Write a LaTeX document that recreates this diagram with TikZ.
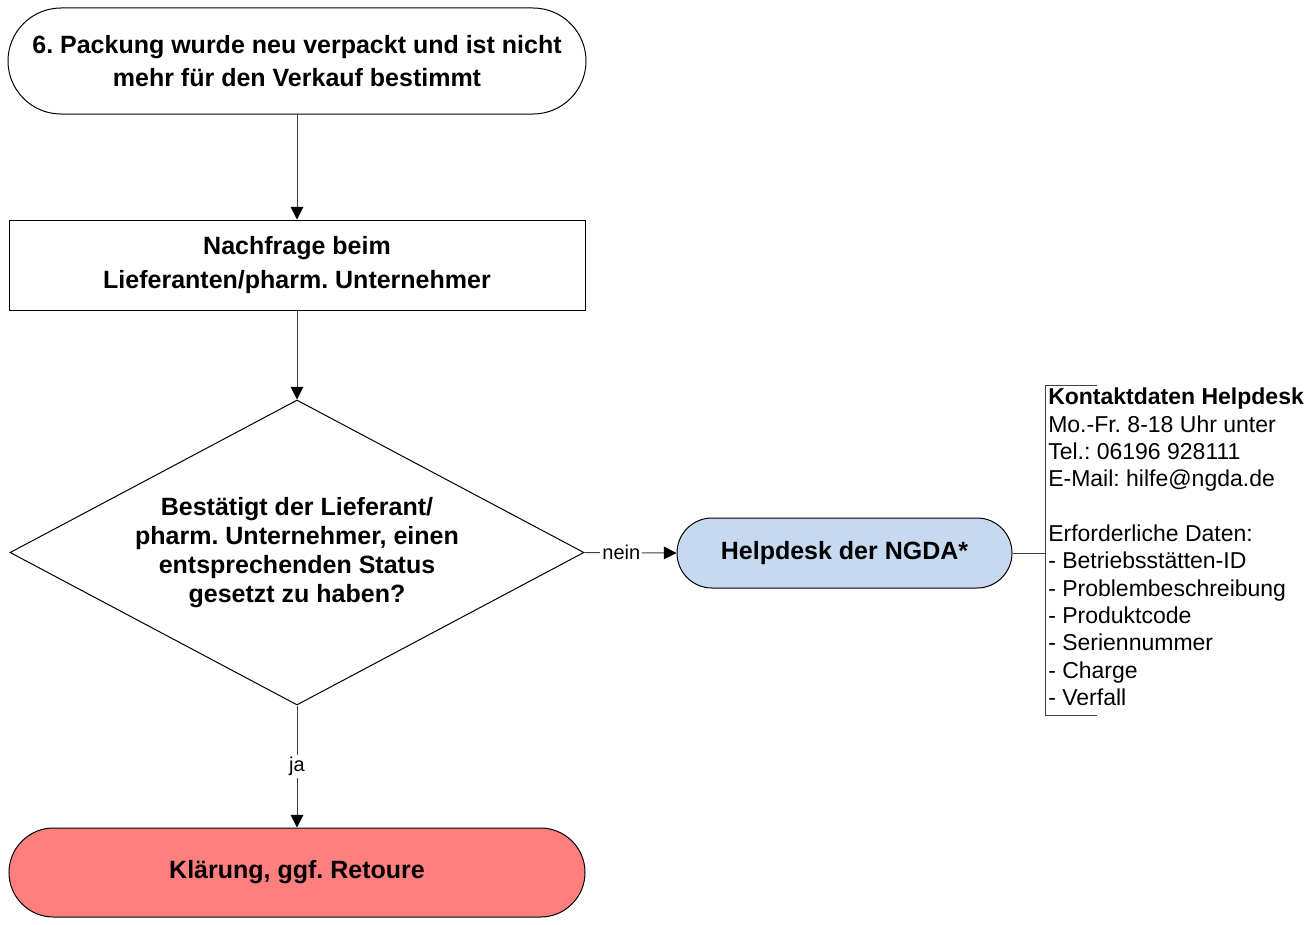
\documentclass[tikz,border=0pt]{standalone}
\usepackage{fontspec}
\setmainfont{Liberation Sans}
\usetikzlibrary{shapes.geometric,arrows.meta}
\definecolor{hdblue}{RGB}{198,217,241}
\definecolor{klred}{RGB}{255,127,127}
\definecolor{lncol}{RGB}{64,64,64}
\frenchspacing
\tikzset{
  basebox/.style={draw=black, line width=0.75pt, align=center, inner sep=0pt,
    font=\frenchspacing\bfseries\fontsize{18.75}{24.75}\selectfont},
  term/.style={basebox, rounded corners=#1},
  conn/.style={draw=lncol, line width=0.75pt, -{Triangle[length=9.5pt,width=9.5pt,black]}},
  plainline/.style={draw=lncol, line width=0.75pt},
  lbl/.style={fill=white, inner sep=1.5pt, font=\fontsize{15}{18}\selectfont}
}
\begin{document}
\begin{tikzpicture}[x=0.75pt,y=-0.75pt]
\useasboundingbox (0,0) rectangle (1308,924);
\node[term=39.75pt, minimum width=433.5pt, minimum height=79.5pt] (start) at (297,61)
  {6. Packung wurde neu verpackt und ist nicht\\mehr für den Verkauf bestimmt};
\node[basebox, minimum width=432pt, minimum height=67.5pt,
  font=\frenchspacing\bfseries\fontsize{18.75}{25.5}\selectfont] (ask) at (297,265)
  {Nachfrage beim\\Lieferanten/pharm. Unternehmer};
\node[basebox, diamond, aspect=1.88, minimum width=430.5pt, minimum height=228.75pt,
  font=\frenchspacing\bfseries\fontsize{18.75}{21.75}\selectfont] (dec) at (297,552.5)
  {Bestätigt der Lieferant/\\pharm. Unternehmer, einen\\entsprechenden Status\\gesetzt zu haben?};
\node[term=26.25pt, fill=hdblue, minimum width=251.25pt, minimum height=52.5pt] (help) at (844.5,553)
  {Helpdesk der NGDA*};
\node[term=33.375pt, fill=klred, minimum width=432pt, minimum height=66.75pt] (end) at (297,872.5)
  {Klärung, ggf. Retoure};
\coordinate (br) at (1045,553);
\node[anchor=north west, inner sep=0pt, align=left, font=\frenchspacing\fontsize{17.25}{20.5}\selectfont] (info) at (1048,388)
  {\textbf{Kontaktdaten Helpdesk}\\Mo.-Fr. 8-18 Uhr unter\\Tel.: 06196 928111\\E-Mail: hilfe@ngda.de\\[20.5pt]
   Erforderliche Daten:\\- Betriebsstätten-ID\\- Problembeschreibung\\- Produktcode\\- Seriennummer\\- Charge\\- Verfall};
\draw[conn] (start) -- (ask);
\draw[conn] (ask) -- (dec);
\draw[conn] (dec.south) -- node[lbl] {ja} (end.north);
\draw[conn] (dec.east) -- node[lbl, pos=0.4] {nein} (help.west);
\draw[plainline] (help.east) -- (br);
\draw[plainline] (1097,385) -- (1045,385) -- (1045,715) -- (1097,715);
\end{tikzpicture}
\end{document}
